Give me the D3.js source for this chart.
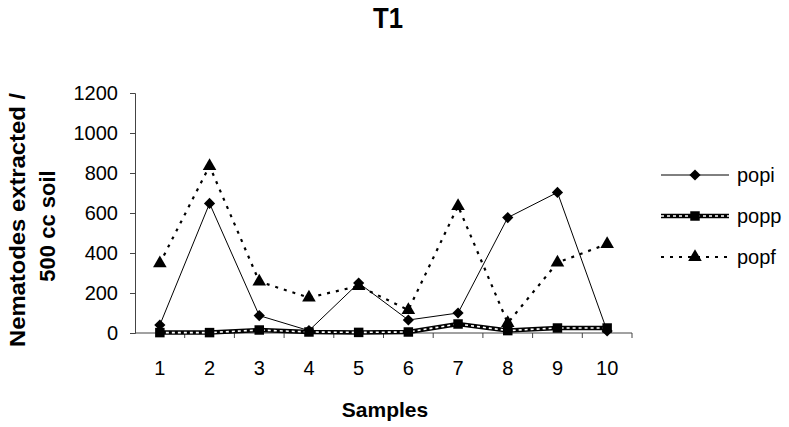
<!DOCTYPE html>
<html><head><meta charset="utf-8">
<script src="https://cdn.jsdelivr.net/npm/d3@7"></script>
<style>body{margin:0;background:#fff}svg{display:block;font-family:"Liberation Sans",Arial,sans-serif}</style>
</head><body>
<svg id="c" width="789" height="427"></svg>
<script>
const categories = ["1","2","3","4","5","6","7","8","9","10"];
const popi = [40, 648, 87, 12, 250, 65, 100, 577, 703, 10];
const popp = [2, 2, 15, 5, 3, 5, 45, 12, 25, 25];
const popf = [348, 835, 257, 177, 235, 115, 635, 50, 352, 445];
const yTicks = [0, 200, 400, 600, 800, 1000, 1200];
const seriesNames = ["popi", "popp", "popf"];

const svg = d3.select("#c");
const x = d3.scaleBand().domain(categories).range([135, 632]);
const y = d3.scaleLinear().domain([0, 1200]).range([333, 93]);

svg.append("text").attr("x", 388).attr("y", 28).attr("text-anchor", "middle")
  .attr("font-weight", "bold").attr("font-size", 29).attr("textLength", 30)
  .attr("lengthAdjust", "spacingAndGlyphs").text("T1");

// y axis
const ya = svg.append("g").attr("transform", "translate(135,0)")
  .call(d3.axisLeft(y).tickValues(yTicks).tickSize(5).tickPadding(12).tickFormat(d3.format("d")));
ya.select(".domain").attr("stroke", "#444");
ya.selectAll(".tick line").attr("stroke", "#444");
ya.selectAll("text").attr("font-size", 20).attr("fill", "#000").attr("font-family", "Liberation Sans, Arial, sans-serif");

// x axis
const xa = svg.append("g").attr("transform", "translate(0,333)")
  .call(d3.axisBottom(x).tickSize(0).tickPadding(28));
xa.select(".domain").attr("stroke", "#444").attr("d", "M135,0H632");
xa.selectAll("text").attr("font-size", 20).attr("fill", "#000").attr("font-family", "Liberation Sans, Arial, sans-serif");
const bounds = categories.map(c => x(c)).concat([x.range()[1]]);
xa.selectAll(".bt").data(bounds.slice(1)).enter().append("line")
  .attr("x1", d => d).attr("x2", d => d).attr("y1", 0).attr("y2", 5).attr("stroke", "#444");

svg.append("text").attr("x", 385).attr("y", 417).attr("text-anchor", "middle")
  .attr("font-weight", "bold").attr("font-size", 21).text("Samples");
svg.append("text").attr("transform", "translate(25,220) rotate(-90)").attr("text-anchor", "middle")
  .attr("font-weight", "bold").attr("font-size", 22).attr("textLength", 254)
  .attr("lengthAdjust", "spacingAndGlyphs").text("Nematodes extracted /");
svg.append("text").attr("transform", "translate(55,226) rotate(-90)").attr("text-anchor", "middle")
  .attr("font-weight", "bold").attr("font-size", 22).text("500 cc soil");

const cx = d => x(d) + x.bandwidth() / 2;
const line = vals => d3.line().x((d, i) => cx(categories[i])).y(d => y(d))(vals);

const sym = {
  popi: d3.symbol().type(d3.symbolDiamond2).size(80),
  popp: d3.symbol().type(d3.symbolSquare).size(90),
  popf: d3.symbol().type(d3.symbolTriangle).size(80)
};
const data = {popi, popp, popf};

function drawLineStyle(g, pathD, name) {
  if (name === "popi") {
    g.append("path").attr("d", pathD).attr("fill", "none").attr("stroke", "#000").attr("stroke-width", 1);
  } else if (name === "popp") {
    g.append("path").attr("d", pathD).attr("fill", "none").attr("stroke", "#000").attr("stroke-width", 4.5);
    g.append("path").attr("d", pathD).attr("fill", "none").attr("stroke", "#fff").attr("stroke-width", 1.6).attr("stroke-dasharray", "3,3");
  } else {
    g.append("path").attr("d", pathD).attr("fill", "none").attr("stroke", "#000").attr("stroke-width", 2.2).attr("stroke-dasharray", "3,6");
  }
}

["popf", "popi", "popp"].forEach(name => {
  const g = svg.append("g");
  drawLineStyle(g, line(data[name]), name);
  g.selectAll("path.m").data(data[name]).enter().append("path").attr("class", "m")
    .attr("d", sym[name]).attr("fill", "#000")
    .attr("transform", (d, i) => `translate(${cx(categories[i])},${y(d)})`);
});

// legend
const legY = {popi: 175, popp: 216, popf: 257};
seriesNames.forEach(name => {
  const g = svg.append("g");
  const ly = legY[name];
  drawLineStyle(g, `M661,${ly}H729`, name);
  g.append("path").attr("d", sym[name]).attr("fill", "#000")
    .attr("transform", `translate(695,${ly})`);
  g.append("text").attr("x", 737).attr("y", ly + 7).attr("font-size", 20).text(name);
});
</script>
</body></html>
